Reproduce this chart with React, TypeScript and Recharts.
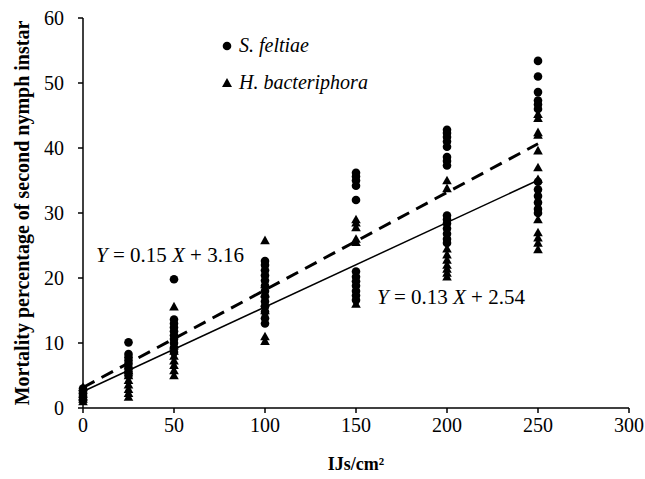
import React from 'react';
import { ScatterChart, Scatter, XAxis, YAxis } from 'recharts';

// Doses (IJs/cm²) and mortality readings per dose
const DOSES = [0, 25, 50, 100, 150, 200, 250];

const SF_VALUES: number[][] = [
  [3.0, 2.5, 2.0, 1.6, 1.2],
  [10.1, 8.3, 7.8, 7.3, 6.8, 6.2, 5.6, 5.0],
  [19.8, 13.6, 13.0, 12.4, 11.8, 11.2, 10.6, 10.0, 9.3, 8.6],
  [22.6, 22.0, 21.2, 20.4, 19.6, 18.8, 18.0, 17.2, 16.4, 15.6, 14.8, 13.8, 13.0],
  [36.2, 35.6, 35.0, 34.2, 32.0, 21.0, 20.2, 19.5, 18.8, 18.0, 17.3, 16.6],
  [42.8, 42.3, 41.7, 41.0, 40.2, 38.6, 38.0, 37.3, 29.6, 29.0, 28.4, 27.6, 26.8, 26.0, 25.4],
  [53.4, 51.0, 48.6, 47.3, 46.7, 46.0, 34.8, 33.6, 32.6, 31.6, 30.6, 30.0],
];

const HB_VALUES: number[][] = [
  [3.2, 2.8, 2.2, 1.8, 1.4, 1.0],
  [6.5, 5.8, 5.0, 4.3, 3.6, 2.9, 2.3, 1.7],
  [15.6, 9.6, 8.8, 8.0, 7.3, 6.6, 5.8, 5.0],
  [25.8, 19.0, 17.6, 16.2, 15.0, 11.0, 10.3],
  [29.0, 28.5, 27.8, 26.0, 25.5, 16.0],
  [35.0, 33.8, 24.5, 23.6, 22.8, 22.0, 21.4, 20.8, 20.2],
  [45.2, 44.6, 42.4, 42.0, 39.6, 37.0, 35.2, 29.0, 27.0, 26.2, 25.4, 24.4],
];

// regression line end points
const FIT_X = [0, 250];
const SF_FIT_Y = [3.16, 40.66];
const HB_FIT_Y = [2.54, 35.04];

const X_TICKS = [0, 50, 100, 150, 200, 250, 300];
const Y_TICKS = [0, 10, 20, 30, 40, 50, 60];

const FONT = 'Liberation Serif, Times New Roman, serif';

const toPoints = (values: number[][]) =>
  DOSES.flatMap((dose, i) => values[i].map((v) => ({ x: dose, y: v })));

const sfPoints = toPoints(SF_VALUES);
const hbPoints = toPoints(HB_VALUES);
const sfFit = FIT_X.map((x, i) => ({ x, y: SF_FIT_Y[i] }));
const hbFit = FIT_X.map((x, i) => ({ x, y: HB_FIT_Y[i] }));

const Dot = (props: any) => <circle cx={props.cx} cy={props.cy} r={4.3} fill="#000" />;

const Tri = (props: any) => {
  const { cx, cy } = props;
  const s = 4.8;
  return <path d={`M${cx},${cy - s} L${cx + s},${cy + s * 0.8} L${cx - s},${cy + s * 0.8} Z`} fill="#000" />;
};

const NoDot = () => <g />;

const tickStyle = { fill: '#000', fontSize: 20, fontFamily: FONT };

export default function App() {
  return (
    <div style={{ position: 'relative', width: 645, height: 479, background: '#fff', fontFamily: FONT }}>
      <style>{'body{margin:0}'}</style>
      <ScatterChart width={645} height={479} margin={{ top: 18, right: 16, bottom: 0, left: 0 }}>
        <XAxis
          type="number"
          dataKey="x"
          domain={[0, 300]}
          ticks={X_TICKS}
          tick={tickStyle}
          tickSize={5}
          tickMargin={5}
          stroke="#000"
          axisLine={{ stroke: '#000', strokeWidth: 1.5 }}
          tickLine={{ stroke: '#000', strokeWidth: 1.5 }}
          height={71}
          label={({ viewBox }: any) => (
            <text
              x={viewBox.x + viewBox.width / 2}
              y={viewBox.y + 62}
              textAnchor="middle"
              fontFamily={FONT}
              fontWeight="bold"
              fontSize={18}
              fill="#000"
            >
              IJs/cm²
            </text>
          )}
        />
        <YAxis
          type="number"
          dataKey="y"
          domain={[0, 60]}
          ticks={Y_TICKS}
          tick={tickStyle}
          tickSize={5}
          tickMargin={14}
          width={83}
          stroke="#000"
          axisLine={{ stroke: '#000', strokeWidth: 1.5 }}
          tickLine={{ stroke: '#000', strokeWidth: 1.5 }}
          label={({ viewBox }: any) => {
            const cx = 22;
            const cy = viewBox.y + viewBox.height / 2;
            return (
              <text
                x={cx}
                y={cy}
                transform={`rotate(-90 ${cx} ${cy})`}
                textAnchor="middle"
                dominantBaseline="central"
                fontFamily={FONT}
                fontWeight="bold"
                fontSize={20}
                fill="#000"
              >
                Mortality percentage of second nymph instar
              </text>
            );
          }}
        />
        <Scatter data={sfFit} shape={NoDot} line={{ stroke: '#000', strokeWidth: 3, strokeDasharray: '13 8' }} isAnimationActive={false} />
        <Scatter data={hbFit} shape={NoDot} line={{ stroke: '#000', strokeWidth: 1.5 }} isAnimationActive={false} />
        <Scatter data={hbPoints} shape={Tri} isAnimationActive={false} />
        <Scatter data={sfPoints} shape={Dot} isAnimationActive={false} />
      </ScatterChart>

      {/* legend */}
      <div style={{ position: 'absolute', left: 222, top: 27, fontSize: 20, fontStyle: 'italic', lineHeight: '37px' }}>
        <div style={{ display: 'flex', alignItems: 'center' }}>
          <svg width={12} height={12} style={{ marginRight: 5 }}>
            <circle cx={5} cy={6} r={4.3} fill="#000" />
          </svg>
          S. feltiae
        </div>
        <div style={{ display: 'flex', alignItems: 'center' }}>
          <svg width={12} height={12} style={{ marginRight: 5 }}>
            <path d="M5,1 L10,10 L0,10 Z" fill="#000" />
          </svg>
          H. bacteriphora
        </div>
      </div>

      {/* regression equations */}
      <div style={{ position: 'absolute', left: 96, top: 243, fontSize: 21, whiteSpace: 'pre' }}>
        <i>Y</i> = 0.15 <i>X</i> + 3.16
      </div>
      <div style={{ position: 'absolute', left: 377, top: 285, fontSize: 21, whiteSpace: 'pre' }}>
        <i>Y</i> = 0.13 <i>X</i> + 2.54
      </div>
    </div>
  );
}
